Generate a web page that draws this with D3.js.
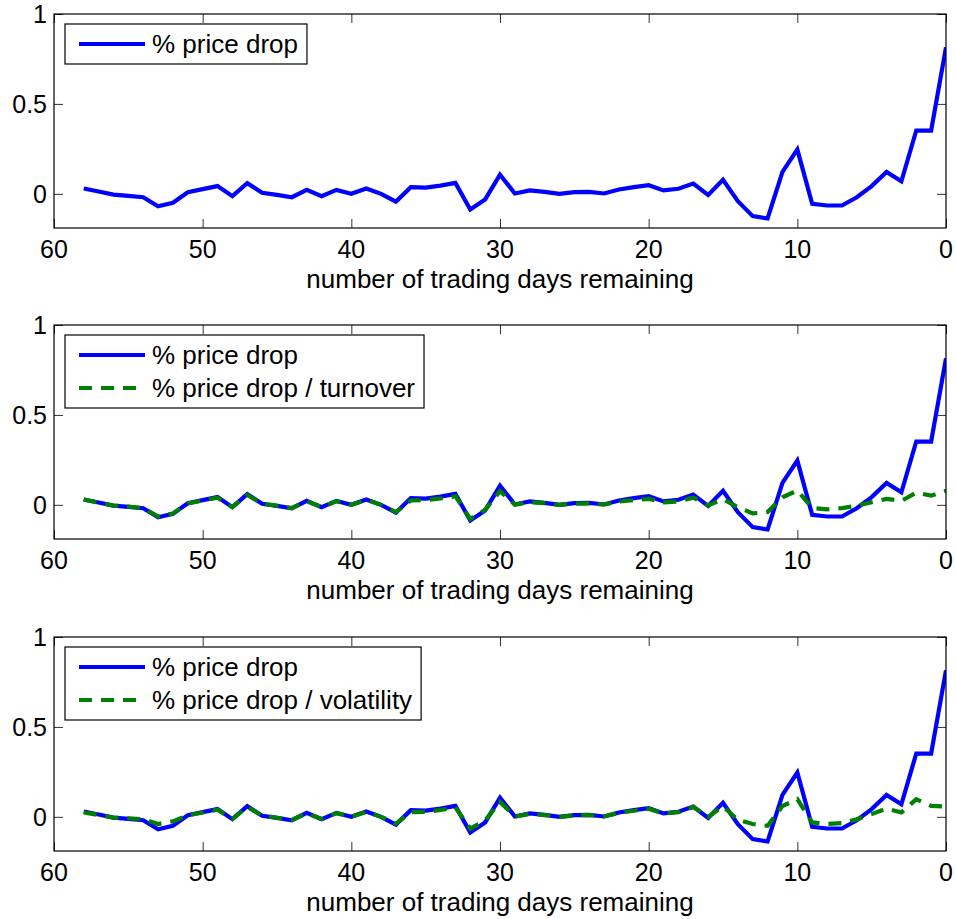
<!DOCTYPE html>
<html>
<head>
<meta charset="utf-8">
<script src="https://cdn.jsdelivr.net/npm/d3@7"></script>
<style>
  html, body { margin: 0; padding: 0; background: #fff; }
  svg { display: block; }
  text { font-family: "Liberation Sans", Arial, Helvetica, sans-serif; fill: #000; }
</style>
</head>
<body>
<svg id="chart" width="956" height="919"></svg>
<script>
// Trading days remaining before the event (58 down to 0)
const days = d3.range(58, -1, -1);

// % price drop, one value per day (same series in every panel)
const priceDrop = [
  0.030, 0.013, -0.004, -0.011, -0.019, -0.069, -0.050, 0.009, 0.026, 0.043,
  -0.013, 0.059, 0.006, -0.006, -0.019, 0.022, -0.013, 0.022, 0.000, 0.030,
  0.000, -0.043, 0.037, 0.035, 0.046, 0.061, -0.087, -0.031, 0.107, 0.002,
  0.019, 0.011, 0.000, 0.009, 0.011, 0.002, 0.024, 0.037, 0.048, 0.019,
  0.028, 0.057, -0.006, 0.078, -0.041, -0.124, -0.137, 0.122, 0.246, -0.056,
  -0.065, -0.065, -0.019, 0.043, 0.122, 0.070, 0.352, 0.352, 0.815
];

// % price drop normalised by turnover
const dropPerTurnover = [
  0.030, 0.012, -0.004, -0.010, -0.018, -0.065, -0.048, 0.008, 0.024, 0.040,
  -0.012, 0.055, 0.006, -0.005, -0.018, 0.020, -0.012, 0.020, 0.000, 0.028,
  0.000, -0.040, 0.024, 0.026, 0.035, 0.048, -0.078, -0.028, 0.076, 0.001,
  0.015, 0.009, 0.000, 0.007, 0.008, 0.002, 0.018, 0.026, 0.033, 0.014,
  0.018, 0.040, -0.003, 0.032, -0.013, -0.048, -0.040, 0.042, 0.080, -0.018,
  -0.025, -0.018, -0.005, 0.014, 0.033, 0.022, 0.068, 0.051, 0.078
];

// % price drop normalised by volatility
const dropPerVolatility = [
  0.024, 0.010, -0.004, -0.008, -0.013, -0.040, -0.025, 0.008, 0.024, 0.040,
  -0.012, 0.055, 0.006, -0.005, -0.017, 0.020, -0.012, 0.020, 0.000, 0.028,
  0.000, -0.038, 0.026, 0.028, 0.038, 0.052, -0.065, -0.020, 0.083, 0.002,
  0.016, 0.010, 0.000, 0.008, 0.010, 0.002, 0.022, 0.034, 0.045, 0.018,
  0.026, 0.055, 0.000, 0.058, -0.017, -0.040, -0.050, 0.060, 0.098, -0.031,
  -0.040, -0.035, -0.013, 0.015, 0.046, 0.024, 0.098, 0.061, 0.057
];

const xTicks = [60, 50, 40, 30, 20, 10, 0];
const yTicks = [0, 0.5, 1];
const yTickLabels = ["0", "0.5", "1"];
const xLabel = "number of trading days remaining";

const panels = [
  { series: [{ name: "% price drop", values: priceDrop, color: "#0000ff", dash: null }] },
  { series: [
      { name: "% price drop", values: priceDrop, color: "#0000ff", dash: null },
      { name: "% price drop / turnover", values: dropPerTurnover, color: "#008000", dash: "13,9" }
  ] },
  { series: [
      { name: "% price drop", values: priceDrop, color: "#0000ff", dash: null },
      { name: "% price drop / volatility", values: dropPerVolatility, color: "#008000", dash: "13,9" }
  ] }
];

const svg = d3.select("#chart");
const left = 54, right = 946, plotH = 214;
const tops = [14, 325, 637];
const tickFont = 25, labelFont = 26;

const x = d3.scaleLinear().domain([60, 0]).range([left, right]);

panels.forEach((panel, i) => {
  const top = tops[i], bottom = top + plotH;
  const y = d3.scaleLinear().domain([-0.19, 1]).range([bottom, top]);
  const g = svg.append("g");

  const clipId = "clip" + i;
  g.append("clipPath").attr("id", clipId)
    .append("rect").attr("x", left).attr("y", top)
    .attr("width", right - left).attr("height", plotH);

  // data lines
  const line = d3.line().x((d, k) => x(days[k])).y(d => y(d));
  const lines = g.append("g").attr("clip-path", `url(#${clipId})`);
  panel.series.forEach(s => {
    lines.append("path")
      .datum(s.values)
      .attr("d", line)
      .attr("fill", "none")
      .attr("stroke", s.color)
      .attr("stroke-width", 4.2)
      .attr("stroke-linejoin", "miter")
      .attr("stroke-dasharray", s.dash);
  });

  // axes: ticks point inward on all four sides
  const tickLen = 9;
  g.append("g").attr("transform", `translate(0,${bottom})`)
    .call(d3.axisBottom(x).tickValues(xTicks).tickSizeInner(-tickLen).tickSizeOuter(0).tickFormat(""))
    .call(a => a.select(".domain").remove());
  g.append("g").attr("transform", `translate(0,${top})`)
    .call(d3.axisTop(x).tickValues(xTicks).tickSizeInner(-tickLen).tickSizeOuter(0).tickFormat(""))
    .call(a => a.select(".domain").remove());
  g.append("g").attr("transform", `translate(${left},0)`)
    .call(d3.axisLeft(y).tickValues(yTicks).tickSizeInner(-tickLen).tickSizeOuter(0).tickFormat(""))
    .call(a => a.select(".domain").remove());
  g.append("g").attr("transform", `translate(${right},0)`)
    .call(d3.axisRight(y).tickValues(yTicks).tickSizeInner(-tickLen).tickSizeOuter(0).tickFormat(""))
    .call(a => a.select(".domain").remove());
  g.selectAll(".tick line").attr("stroke", "#333").attr("stroke-width", 1);

  // frame
  g.append("rect").attr("x", left).attr("y", top)
    .attr("width", right - left).attr("height", plotH)
    .attr("fill", "none").attr("stroke", "#000").attr("stroke-width", 1.2);

  // tick labels
  g.selectAll(".xl").data(xTicks).join("text")
    .attr("x", d => x(d)).attr("y", bottom + 30)
    .attr("text-anchor", "middle").attr("font-size", tickFont)
    .text(d => d);
  g.selectAll(".yl").data(yTicks).join("text")
    .attr("x", left - 7).attr("y", d => y(d)).attr("dy", "0.36em")
    .attr("text-anchor", "end").attr("font-size", tickFont)
    .text((d, k) => yTickLabels[k]);

  g.append("text")
    .attr("x", (left + right) / 2).attr("y", bottom + 60)
    .attr("text-anchor", "middle").attr("font-size", labelFont)
    .text(xLabel);

  // legend
  const lx = 65, ly = top + 10, rowH = 33;
  const leg = g.append("g");
  const box = leg.append("rect").attr("x", lx).attr("y", ly)
    .attr("fill", "#fff").attr("stroke", "#000").attr("stroke-width", 1.2);
  let maxW = 0;
  panel.series.forEach((s, k) => {
    const cy = ly + 20 + k * rowH;
    leg.append("line").attr("x1", lx + 14).attr("x2", lx + 80)
      .attr("y1", cy).attr("y2", cy)
      .attr("stroke", s.color).attr("stroke-width", 4.2)
      .attr("stroke-dasharray", s.dash);
    const t = leg.append("text").attr("x", lx + 87).attr("y", cy).attr("dy", "0.36em")
      .attr("font-size", labelFont).text(s.name);
    maxW = Math.max(maxW, t.node().getComputedTextLength());
  });
  box.attr("width", 87 + maxW + 9).attr("height", 40 + (panel.series.length - 1) * rowH);
});
</script>
</body>
</html>
